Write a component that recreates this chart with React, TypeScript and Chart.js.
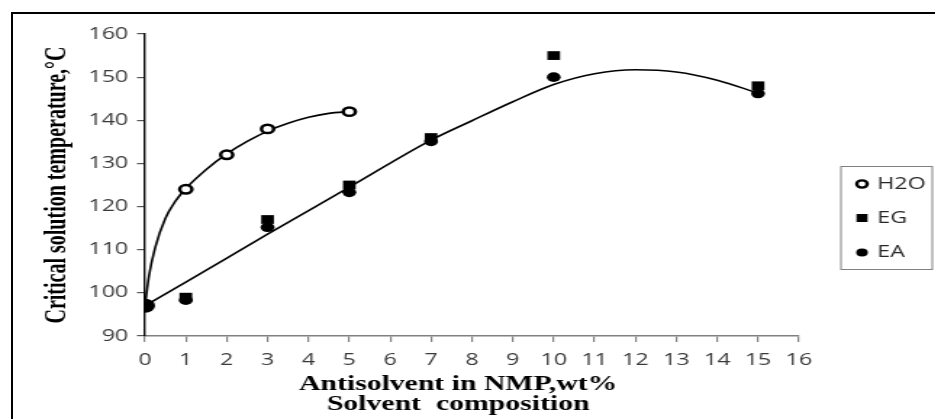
import React, { useEffect, useRef } from "react";
import { Chart, registerables } from "chart.js";

Chart.register(...registerables);

// ---- data ----
const seriesNames = ["H2O", "EG", "EA"];
const h2oX = [0, 1, 2, 3, 5];
const h2oY = [97, 124, 132, 138, 142];
const egX = [0, 1, 3, 5, 7, 10, 15];
const egY = [97, 99, 117, 125, 136, 155, 148];
const eaX = [0, 1, 3, 5, 7, 10, 15];
const eaY = [97, 98.3, 115.2, 123.3, 135.1, 150, 146.2];
// trend curves
const h2oFitX = [0, 0.1, 0.25, 0.5, 0.75, 1, 1.5, 2, 2.5, 3, 3.5, 4, 4.5, 5];
const h2oFitY = [97, 104, 110.5, 117.3, 121.3, 124.2, 128.6, 132.2, 135.1, 137.5, 139.3, 140.7, 141.6, 142];
const antiFitX = [0, 1, 3, 5, 7, 8, 9, 10, 11, 12, 13, 14, 15];
const antiFitY = [97, 102.5, 113.6, 124.5, 135.4, 139.9, 144.3, 148.3, 150.8, 151.7, 151.2, 149.3, 146.3];
const xMin = 0, xMax = 16, xStep = 1;
const yMin = 90, yMax = 160, yStep = 10;
const xTitleLines = ["Antisolvent in NMP,wt%", "Solvent  composition"];
const yTitle = "Critical solution temperature,\u00B0C";

const pts = (xs: number[], ys: number[]) => xs.map((x, i) => ({ x, y: ys[i] }));

// ---- layout ----
const STRETCH = 1.45;
const BOX_W = 922;
const BOX_H = 405;
const CW = Math.round(BOX_W / STRETCH);
const TICK_FONT = { family: "'Open Sans', sans-serif", size: 16 };

const decorPlugin = {
  id: "decor",
  afterDraw(chart: any) {
    const ctx = chart.ctx as CanvasRenderingContext2D;
    ctx.save();
    ctx.fillStyle = "#000";
    ctx.font = "bold 20.5px 'Liberation Serif', 'Times New Roman', serif";
    ctx.textAlign = "center";
    ctx.textBaseline = "middle";
    ctx.fillText(xTitleLines[0], 307, 371);
    ctx.fillText(xTitleLines[1], 307, 390.5);
    ctx.save();
    ctx.translate(31, 171);
    ctx.rotate(-Math.PI / 2);
    ctx.font = "bold 20px 'Liberation Serif', 'Times New Roman', serif";
    ctx.fillText(yTitle, 0, 0);
    ctx.restore();

    // legend box
    ctx.strokeStyle = "#808080";
    ctx.lineWidth = 1;
    ctx.strokeRect(571, 152.5, 63, 103);
    const ys = [170, 204, 238.5];
    const mx = 585.5;
    ctx.font = "16px 'Open Sans', sans-serif";
    ctx.textAlign = "left";
    seriesNames.forEach((name, i) => {
      const y = ys[i];
      ctx.fillStyle = "#000";
      if (i === 0) {
        ctx.beginPath();
        ctx.arc(mx, y, 3.6, 0, Math.PI * 2);
        ctx.lineWidth = 2.4;
        ctx.strokeStyle = "#000";
        ctx.stroke();
      } else if (i === 1) {
        ctx.fillRect(mx - 3.8, y - 4, 7.6, 8);
      } else {
        ctx.beginPath();
        ctx.arc(mx, y, 4, 0, Math.PI * 2);
        ctx.fill();
      }
      ctx.fillStyle = "#262626";
      ctx.fillText(name, 596, y);
    });
    ctx.restore();
  },
};

export default function App() {
  const ref = useRef<HTMLCanvasElement>(null);

  useEffect(() => {
    const canvas = ref.current;
    if (!canvas) return;
    const chart = new Chart(canvas, {
      type: "scatter",
      data: {
        datasets: [
          {
            label: "H2O fit",
            data: pts(h2oFitX, h2oFitY),
            showLine: true,
            borderColor: "#000",
            borderWidth: 1.6,
            pointRadius: 0,
            cubicInterpolationMode: "monotone",
            order: 10,
          },
          {
            label: "antisolvent fit",
            data: pts(antiFitX, antiFitY),
            showLine: true,
            borderColor: "#000",
            borderWidth: 1.6,
            pointRadius: 0,
            cubicInterpolationMode: "monotone",
            order: 9,
          },
          {
            label: seriesNames[0],
            data: pts(h2oX, h2oY),
            pointStyle: "circle",
            pointRadius: 4.2,
            pointBorderWidth: 2.5,
            pointBorderColor: "#000",
            pointBackgroundColor: "#fff",
            order: 3,
          },
          {
            label: seriesNames[1],
            data: pts(egX, egY),
            pointStyle: "rect",
            pointRadius: 6.2,
            pointBorderWidth: 0,
            pointBackgroundColor: "#000",
            pointBorderColor: "#000",
            order: 2,
          },
          {
            label: seriesNames[2],
            data: pts(eaX, eaY),
            pointStyle: "circle",
            pointRadius: (c: any) => (c.raw && c.raw.x === 0 ? 7 : 4.8),
            pointBorderWidth: 0,
            pointBackgroundColor: "#000",
            pointBorderColor: "#000",
            order: 1,
          },
        ] as any,
      },
      options: {
        responsive: false,
        animation: false,
        devicePixelRatio: 1,
        events: [],
        layout: { padding: { top: 20, right: CW - 542, left: 0, bottom: 0 } },
        plugins: {
          legend: { display: false },
          tooltip: { enabled: false },
          title: { display: false },
        },
        scales: {
          x: {
            type: "linear",
            min: xMin,
            max: xMax,
            ticks: {
              stepSize: xStep,
              autoSkip: false,
              maxRotation: 0,
              color: "#3a3a3a",
              font: TICK_FONT,
              padding: 9,
            },
            grid: {
              display: true,
              drawOnChartArea: false,
              drawTicks: true,
              tickLength: 6,
              color: "#808080",
              lineWidth: 1.2,
            },
            border: { display: true, color: "#808080", width: 1.5 },
            afterFit: (s: any) => {
              s.height = 83;
            },
          },
          y: {
            type: "linear",
            min: yMin,
            max: yMax,
            ticks: {
              stepSize: yStep,
              color: "#3a3a3a",
              font: TICK_FONT,
              padding: 6,
            },
            grid: {
              display: true,
              drawOnChartArea: false,
              drawTicks: true,
              tickLength: 5.5,
              color: "#555",
              lineWidth: 1.2,
            },
            border: { display: true, color: "#000", width: 1.4 },
            afterFit: (s: any) => {
              s.width = 91;
            },
          },
        },
      } as any,
      plugins: [decorPlugin],
    });
    return () => chart.destroy();
  }, []);

  return (
    <div
      style={{
        position: "fixed",
        left: 11,
        top: 12,
        width: BOX_W,
        height: BOX_H,
        borderTop: "2px solid #000",
        borderLeft: "2px solid #000",
        background: "#fff",
        overflow: "hidden",
      }}
    >
      <canvas
        ref={ref}
        width={CW}
        height={BOX_H}
        style={{
          display: "block",
          width: CW,
          height: BOX_H,
          transform: `scaleX(${STRETCH})`,
          transformOrigin: "0 0",
        }}
      />
    </div>
  );
}
